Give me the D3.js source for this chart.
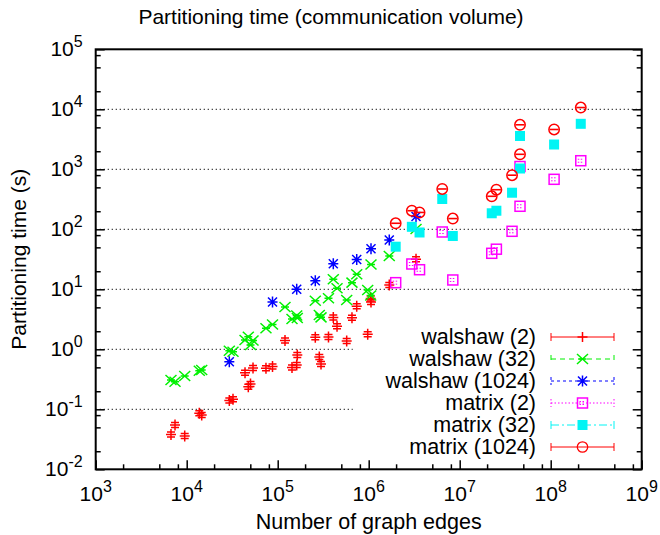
<!DOCTYPE html>
<html>
<head>
<meta charset="utf-8">
<script src="https://cdn.jsdelivr.net/npm/d3@7"></script>
<style>
  body { margin: 0; background: #fff; }
  text { font-family: "Liberation Sans", Arial, sans-serif; fill: #000; }
</style>
</head>
<body>
<div id="chart"></div>
<script>
// walshaw graphs: number of edges, and partitioning time (s) for k = 2, 32, 1024
var walshawEdges = [6720, 7440, 9510, 13750, 14620, 29400, 32270, 43740, 47530, 50240, 53550,
  74320, 87700, 120300, 143600, 161800, 164200, 258900, 286500, 299200, 361500, 408300,
  448700, 573000, 655000, 738500, 975000, 1052000, 1060000, 1683000, 3311000];
var walshaw2 = [0.038, 0.0547, 0.0359, 0.0858, 0.0804, 0.140, 0.147, 0.407, 0.238, 0.264, 0.488,
  0.482, 0.517, 1.40, 0.497, 0.547, 0.803, 1.585, 0.745, 0.569, 1.60, 3.39,
  2.42, 1.37, 3.36, 5.21, 1.79, 7.03, 6.14, 11.8, 31.6];
var walshaw32 = [0.308, 0.288, 0.359, 0.440, 0.452, 0.948, 0.912, 1.43, 1.62, 1.18, 1.40,
  2.24, 2.59, 5.07, 3.20, 3.66, 3.33, 6.46, 3.73, 3.41, 7.08, 14.7,
  10.4, 6.63, 12.9, 17.8, 9.73, 7.88, 25.9, 35.9, 101];
var walshaw1024 = [null, null, null, null, null, 0.621, null, null, null, null, null,
  null, 6.14, null, null, 10.0, null, 13.9, null, null, null, 26.7,
  null, null, null, 31.4, null, null, 47.5, 66.4, 163];

// matrix collection: number of edges, and partitioning time (s)
var matrixEdges = [1.98e6, 2.98e6, 3.62e6, 6.43e6, 8.40e6, 2.25e7, 2.53e7, 3.76e7, 4.60e7, 4.60e7, 1.09e8, 2.14e8];
var matrix2 = [12.9, 26.4, 21.2, 90.2, 14.3, 39.8, 46.6, 92.6, 242, 1113, 681, 1390];
var matrix32 = [51.3, 110, 88.5, 320, 77.3, 185, 204, 407, 1031, 3590, 2590, 5730];
var matrix1024 = [126, 204, 191, 470, 151, 355, 457, 798, 1778, 5520, 4610, 10700];

var seriesNames = ['walshaw (2)', 'walshaw (32)', 'walshaw (1024)', 'matrix (2)', 'matrix (32)', 'matrix (1024)'];
var xTickExps = [3, 4, 5, 6, 7, 8, 9];
var yTickExps = [-2, -1, 0, 1, 2, 3, 4, 5];

var svgWidth = 660, svgHeight = 535,
  margin = { top: 49.3, right: 18.3, bottom: 65.7, left: 95.7 };
var width = svgWidth - margin.left - margin.right;
var height = svgHeight - margin.top - margin.bottom;

var series = [
  { name: seriesNames[0], xs: walshawEdges, ys: walshaw2, color: '#ff0000', shape: 'plus', dash: null },
  { name: seriesNames[1], xs: walshawEdges, ys: walshaw32, color: '#00f000', shape: 'cross', dash: '5,4' },
  { name: seriesNames[2], xs: walshawEdges, ys: walshaw1024, color: '#0000ff', shape: 'star', dash: '3,3' },
  { name: seriesNames[3], xs: matrixEdges, ys: matrix2, color: '#ff00ff', shape: 'square', dash: '1.5,2' },
  { name: seriesNames[4], xs: matrixEdges, ys: matrix32, color: '#00f4f4', shape: 'fsquare', dash: '8,3,2,3' },
  { name: seriesNames[5], xs: matrixEdges, ys: matrix1024, color: '#ff0000', shape: 'circle', dash: null }
];

var svg = d3.select('#chart').append('svg')
  .attr('width', svgWidth)
  .attr('height', svgHeight);
var g = svg.append('g')
  .attr('transform', 'translate(' + margin.left + ',' + margin.top + ')');

var x = d3.scaleLog().domain([1e3, 1e9]).range([0, width]);
var y = d3.scaleLog().domain([1e-2, 1e5]).range([height, 0]);

var keyLeft = 257, keyTop = 272;

drawGrid(g, x, y, width);
drawAxes(g, x, y, width, height);
series.forEach(function (s) { drawPoints(g, x, y, s); });
drawKey(g, series);
drawLabels(svg);

function drawGrid(g, x, y, width) {
  g.append('g').selectAll('line')
    .data(yTickExps.slice(1, -1))
    .enter().append('line')
    .attr('x1', 0)
    .attr('x2', function (e) { return y(Math.pow(10, e)) > keyTop ? keyLeft : width; })
    .attr('y1', function (e) { return y(Math.pow(10, e)); })
    .attr('y2', function (e) { return y(Math.pow(10, e)); })
    .attr('stroke', '#000')
    .attr('stroke-width', 1)
    .attr('stroke-dasharray', '1.2,2.8');
}

function minorValues(exps) {
  var out = [];
  exps.slice(0, -1).forEach(function (e) {
    [2, 5, 8].forEach(function (m) { out.push(m * Math.pow(10, e)); });
  });
  return out;
}

function drawAxes(g, x, y, width, height) {
  var xMajor = xTickExps.map(function (e) { return Math.pow(10, e); });
  var yMajor = yTickExps.map(function (e) { return Math.pow(10, e); });

  var axes = [
    { axis: d3.axisBottom(x), t: 'translate(0,' + height + ')', major: xMajor, minor: minorValues(xTickExps) },
    { axis: d3.axisLeft(y), t: null, major: yMajor, minor: minorValues(yTickExps) },
    { axis: d3.axisRight(y), t: 'translate(' + width + ',0)', major: yMajor, minor: minorValues(yTickExps) }
  ];
  axes.forEach(function (a) {
    [[a.major, -9], [a.minor, -5]].forEach(function (p) {
      var ax = g.append('g')
        .attr('transform', a.t)
        .call(a.axis.tickValues(p[0]).tickSize(p[1]).tickSizeOuter(0).tickFormat(''));
      ax.select('.domain').remove();
      ax.selectAll('line').attr('stroke', '#000').attr('stroke-width', 1.5);
    });
  });

  g.append('rect')
    .attr('width', width)
    .attr('height', height)
    .attr('fill', 'none')
    .attr('stroke', '#000')
    .attr('stroke-width', 2);

  // tick labels with superscript exponents
  xTickExps.forEach(function (e) {
    var t = g.append('text')
      .attr('x', x(Math.pow(10, e)))
      .attr('y', height + 32)
      .attr('text-anchor', 'middle')
      .style('font-size', '21px');
    t.append('tspan').text('10');
    t.append('tspan').attr('dy', -9).style('font-size', '16px').text(e);
  });
  yTickExps.forEach(function (e) {
    var t = g.append('text')
      .attr('x', -13)
      .attr('y', y(Math.pow(10, e)) + 7)
      .attr('text-anchor', 'end')
      .style('font-size', '21px');
    t.append('tspan').text('10');
    t.append('tspan').attr('dy', -9).style('font-size', '16px').text(e);
  });
}

function marker(sel, shape, color) {
  var w = 1.5;
  if (shape === 'plus' || shape === 'plainplus') {
    var d = shape === 'plus' ? 'M-5,0H5M0,-5.5V5.5M-4,-2.5H4M-4,2.5H4' : 'M-5,0H5M0,-5V5';
    sel.append('path').attr('d', d)
      .attr('stroke', color).attr('stroke-width', w).attr('fill', 'none');
  } else if (shape === 'cross') {
    sel.append('path').attr('d', 'M-5.5,-5L5.5,5M-5.5,5L5.5,-5M-4,0H4')
      .attr('stroke', color).attr('stroke-width', w).attr('fill', 'none');
  } else if (shape === 'star') {
    sel.append('path').attr('d', 'M-5,0H5M0,-5.5V5.5M-4.5,-4.5L4.5,4.5M-4.5,4.5L4.5,-4.5')
      .attr('stroke', color).attr('stroke-width', w).attr('fill', 'none');
  } else if (shape === 'square') {
    sel.append('rect').attr('x', -5).attr('y', -5).attr('width', 10).attr('height', 10)
      .attr('stroke', color).attr('stroke-width', w).attr('fill', 'none');
    sel.append('path').attr('d', 'M-3,-1.5H3M-3,1.5H3')
      .attr('stroke', color).attr('stroke-width', 1).attr('stroke-dasharray', '1.5,1.5');
  } else if (shape === 'fsquare') {
    sel.append('rect').attr('x', -5).attr('y', -5).attr('width', 10).attr('height', 10)
      .attr('fill', color);
  } else if (shape === 'circle') {
    sel.append('circle').attr('r', 5.2)
      .attr('stroke', color).attr('stroke-width', w).attr('fill', 'none');
    sel.append('path').attr('d', 'M-4.5,0H4.5')
      .attr('stroke', color).attr('stroke-width', 1.6);
  }
}

function drawPoints(g, x, y, s) {
  var pts = s.xs.map(function (v, i) { return { x: v, y: s.ys[i] }; })
    .filter(function (d) { return d.y != null; });
  g.append('g').selectAll('g')
    .data(pts)
    .enter().append('g')
    .attr('transform', function (d) { return 'translate(' + x(d.x) + ',' + y(d.y) + ')'; })
    .each(function () { marker(d3.select(this), s.shape, s.color); });
}

function drawKey(g, series) {
  var textRight = 536 - margin.left, x1 = 551 - margin.left, x2 = 614 - margin.left;
  series.forEach(function (s, i) {
    var cy = 337 - margin.top + i * 22;
    g.append('text')
      .attr('x', textRight)
      .attr('y', cy + 7.5)
      .attr('text-anchor', 'end')
      .style('font-size', '21.5px')
      .text(s.name);
    g.append('path')
      .attr('d', 'M' + x1 + ',' + cy + 'H' + x2 + 'M' + x1 + ',' + (cy - 4) + 'V' + (cy + 4) + 'M' + x2 + ',' + (cy - 4) + 'V' + (cy + 4))
      .attr('stroke', s.color)
      .attr('stroke-width', 1)
      .attr('stroke-dasharray', s.dash)
      .attr('fill', 'none');
    var shape = s.shape === 'plus' ? 'plainplus' : s.shape === 'circle' ? 'ring' : s.shape;
    var m = g.append('g').attr('transform', 'translate(' + ((x1 + x2) / 2) + ',' + cy + ')');
    if (shape === 'ring') {
      m.append('circle').attr('r', 5.2).attr('stroke', s.color).attr('stroke-width', 1.3).attr('fill', 'none');
    } else {
      marker(m, shape, s.color);
    }
  });
}

function drawLabels(svg) {
  svg.append('text')
    .attr('x', 331)
    .attr('y', 24)
    .attr('text-anchor', 'middle')
    .style('font-size', '21px')
    .text('Partitioning time (communication volume)');
  svg.append('text')
    .attr('x', margin.left + width / 2)
    .attr('y', 529)
    .attr('text-anchor', 'middle')
    .style('font-size', '21.5px')
    .text('Number of graph edges');
  svg.append('text')
    .attr('transform', 'translate(26,' + (margin.top + height / 2) + ') rotate(-90)')
    .attr('text-anchor', 'middle')
    .style('font-size', '21px')
    .text('Partitioning time (s)');
}
</script>
</body>
</html>
